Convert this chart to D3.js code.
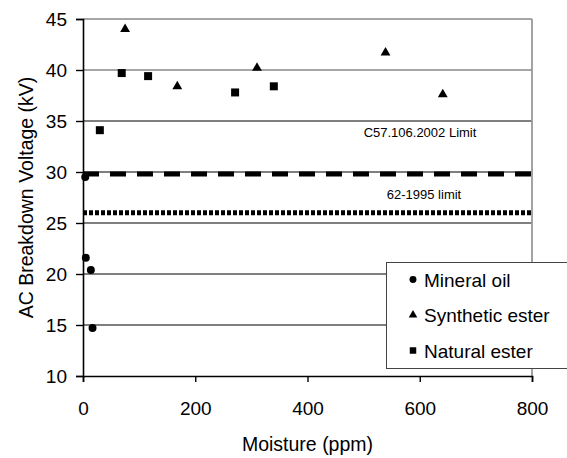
<!DOCTYPE html>
<html>
<head>
<meta charset="utf-8">
<script src="https://cdn.jsdelivr.net/npm/d3@7"></script>
<style>
  body { margin: 0; background: #fff; }
  text { font-family: "Liberation Sans", Arial, sans-serif; fill: #000; }
</style>
</head>
<body>
<div id="chart"></div>
<script>
var width = 567;
var height = 458;

// Mineral oil
var mineralX = [4, 5, 14, 17];
var mineralY = [29.5, 21.6, 20.4, 14.7];

// Synthetic ester
var syntheticX = [75, 168, 310, 539, 641];
var syntheticY = [44.0, 38.4, 40.2, 41.7, 37.6];

// Natural ester
var naturalX = [30, 69, 116, 271, 340];
var naturalY = [34.1, 39.7, 39.4, 37.8, 38.4];

// limits
var limitNames = ["C57.106.2002 Limit", "62-1995 limit"];
var limitValues = [29.8, 26];

var xTicks = [0, 200, 400, 600, 800];
var yTicks = [10, 15, 20, 25, 30, 35, 40, 45];

var legendNames = ["Mineral oil", "Synthetic ester", "Natural ester"];

var margin = { left: 83, right: 35, top: 19, bottom: 82 };

var svg = d3.select("#chart").append("svg")
	.attr("width", width)
	.attr("height", height);

var x = d3.scaleLinear().domain([0, 800]).range([margin.left, width - margin.right]);
var y = d3.scaleLinear().domain([10, 45]).range([height - margin.bottom, margin.top]);

// gridlines
svg.append("g").selectAll("line")
	.data(yTicks.filter(d => d > 10))
	.enter().append("line")
	.attr("x1", x(0)).attr("x2", x(800))
	.attr("y1", d => y(d)).attr("y2", d => y(d))
	.attr("stroke", d => d >= 40 ? "#888" : "#555")
	.attr("stroke-width", 1.4);

// right border of plot
svg.append("line")
	.attr("x1", x(800)).attr("x2", x(800))
	.attr("y1", y(45)).attr("y2", y(10))
	.attr("stroke", "#999")
	.attr("stroke-width", 1.8);

// limit lines
svg.append("line")
	.attr("x1", x(0)).attr("x2", x(800))
	.attr("y1", y(limitValues[0])).attr("y2", y(limitValues[0]))
	.attr("stroke", "#000").attr("stroke-width", 5)
	.attr("stroke-dasharray", "16,11");

svg.append("line")
	.attr("x1", x(0)).attr("x2", x(800))
	.attr("y1", y(limitValues[1])).attr("y2", y(limitValues[1]))
	.attr("stroke", "#000").attr("stroke-width", 5)
	.attr("stroke-dasharray", "4,2");

svg.append("text")
	.attr("x", 420).attr("y", 137)
	.attr("text-anchor", "middle")
	.style("font-size", "13px")
	.text(limitNames[0]);

svg.append("text")
	.attr("x", 424).attr("y", 199)
	.attr("text-anchor", "middle")
	.style("font-size", "13px")
	.text(limitNames[1]);

// axes
var xAxis = svg.append("g")
	.attr("transform", `translate(0,${y(10)})`)
	.call(d3.axisBottom(x).tickValues(xTicks).tickSize(6).tickPadding(20));
var yAxis = svg.append("g")
	.attr("transform", `translate(${x(0)},0)`)
	.call(d3.axisLeft(y).tickValues(yTicks).tickSize(7).tickPadding(9));

[xAxis, yAxis].forEach(a => {
	a.select(".domain").attr("stroke", "#000").attr("stroke-width", 1.6);
	a.selectAll(".tick line").attr("stroke", "#000").attr("stroke-width", 1.4);
	a.selectAll(".tick text")
		.style("font-family", "'Liberation Sans', Arial, sans-serif")
		.style("font-size", "19px")
		.attr("fill", "#000");
});
yAxis.selectAll(".tick text").attr("dy", "0.36em");

// axis titles
svg.append("text")
	.attr("x", (x(0) + x(800)) / 2).attr("y", 451)
	.attr("text-anchor", "middle")
	.style("font-size", "19.5px")
	.text("Moisture (ppm)");

svg.append("text")
	.attr("transform", `translate(33,${(y(10) + y(45)) / 2}) rotate(-90)`)
	.attr("text-anchor", "middle")
	.style("font-size", "19.5px")
	.text("AC Breakdown Voltage (kV)");

// markers
var circleSym = d3.symbol().type(d3.symbolCircle).size(50);
var triSym = d3.symbol().type(d3.symbolTriangle).size(42);
var squareSym = d3.symbol().type(d3.symbolSquare).size(64);

svg.append("g").selectAll("path")
	.data(mineralX.map((v, i) => [v, mineralY[i]]))
	.enter().append("path")
	.attr("d", circleSym)
	.attr("transform", d => `translate(${x(d[0])},${y(d[1])})`)
	.attr("fill", "#000");

svg.append("g").selectAll("path")
	.data(syntheticX.map((v, i) => [v, syntheticY[i]]))
	.enter().append("path")
	.attr("d", triSym)
	.attr("transform", d => `translate(${x(d[0])},${y(d[1])})`)
	.attr("fill", "#000");

svg.append("g").selectAll("path")
	.data(naturalX.map((v, i) => [v, naturalY[i]]))
	.enter().append("path")
	.attr("d", squareSym)
	.attr("transform", d => `translate(${x(d[0])},${y(d[1])})`)
	.attr("fill", "#000");

// legend
var legend = svg.append("g").attr("transform", "translate(386,262)");
legend.append("rect")
	.attr("x", 0.5).attr("y", 0.5)
	.attr("width", 190).attr("height", 106)
	.attr("fill", "#fff")
	.attr("stroke", "#444")
	.attr("stroke-width", 1);

var legendSyms = [
	d3.symbol().type(d3.symbolCircle).size(38),
	d3.symbol().type(d3.symbolTriangle).size(32),
	d3.symbol().type(d3.symbolSquare).size(42)
];

var item = legend.selectAll(".item")
	.data(legendNames)
	.enter().append("g")
	.attr("transform", (d, i) => `translate(0,${17.5 + i * 35.5})`);

item.append("path")
	.attr("d", (d, i) => legendSyms[i]())
	.attr("transform", "translate(27,0)")
	.attr("fill", "#000");

item.append("text")
	.attr("x", 38).attr("y", 7)
	.style("font-size", "19px")
	.text(d => d);
</script>
</body>
</html>
